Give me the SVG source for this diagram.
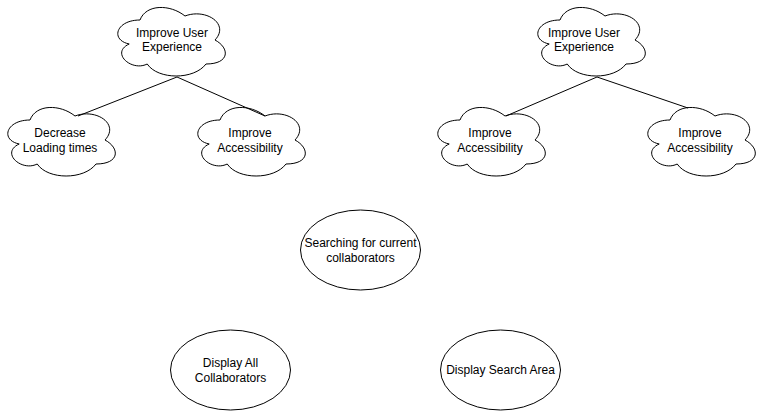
<svg xmlns="http://www.w3.org/2000/svg" width="761" height="411" viewBox="0 0 761 411">
<defs>
<path id="cloud" d="M 30 20 C 6 20 0 40 19.2 44 C 0 52.8 21.6 72 37.2 64 C 48 80 84 80 96 64 C 120 64 120 48 105 40 C 120 24 96 8 75 16 C 60 4 36 4 30 20 Z"/>
</defs>
<style>
.shape{fill:#ffffff;stroke:#000000;stroke-width:1}
.edge{fill:none;stroke:#000000;stroke-width:1}
text{font-family:"Liberation Sans",Arial,Helvetica,sans-serif;font-size:12px;fill:#000000;text-anchor:middle}
</style>
<rect width="761" height="411" fill="#ffffff"/>
<g id="node-ux-left">
<use href="#cloud" x="110" y="0" class="shape"/>
<text x="172" y="37">Improve User</text>
<text x="172" y="51">Experience</text>
</g>
<g id="node-decrease-loading">
<use href="#cloud" x="0" y="100" class="shape"/>
<text x="60" y="137">Decrease</text>
<text x="60" y="152">Loading times</text>
</g>
<g id="node-access-1">
<use href="#cloud" x="190" y="100" class="shape"/>
<text x="250" y="137">Improve</text>
<text x="250" y="152">Accessibility</text>
</g>
<g id="node-ux-right">
<use href="#cloud" x="530" y="0" class="shape"/>
<text x="584" y="37">Improve User</text>
<text x="584" y="51">Experience</text>
</g>
<g id="node-access-2">
<use href="#cloud" x="430" y="100" class="shape"/>
<text x="490" y="137">Improve</text>
<text x="490" y="152">Accessibility</text>
</g>
<g id="node-access-3">
<use href="#cloud" x="640" y="100" class="shape"/>
<text x="700" y="137">Improve</text>
<text x="700" y="152">Accessibility</text>
</g>
<g id="node-searching">
<ellipse class="shape" cx="360.5" cy="250" rx="60" ry="40"/>
<text x="360.5" y="247">Searching for current</text>
<text x="360.5" y="262">collaborators</text>
</g>
<g id="node-display-all">
<ellipse class="shape" cx="230.5" cy="370" rx="60" ry="40"/>
<text x="230.5" y="367">Display All</text>
<text x="230.5" y="382">Collaborators</text>
</g>
<g id="node-display-search">
<ellipse class="shape" cx="500.5" cy="370" rx="60" ry="40"/>
<text x="500.5" y="374">Display Search Area</text>
</g>
<g id="connectors">
<path class="edge" d="M 177 77 L 78 116"/>
<path class="edge" d="M 177 77 L 265 116"/>
<path class="edge" d="M 597 77 L 506 116"/>
<path class="edge" d="M 597 77 L 688 108"/>
</g>
</svg>
